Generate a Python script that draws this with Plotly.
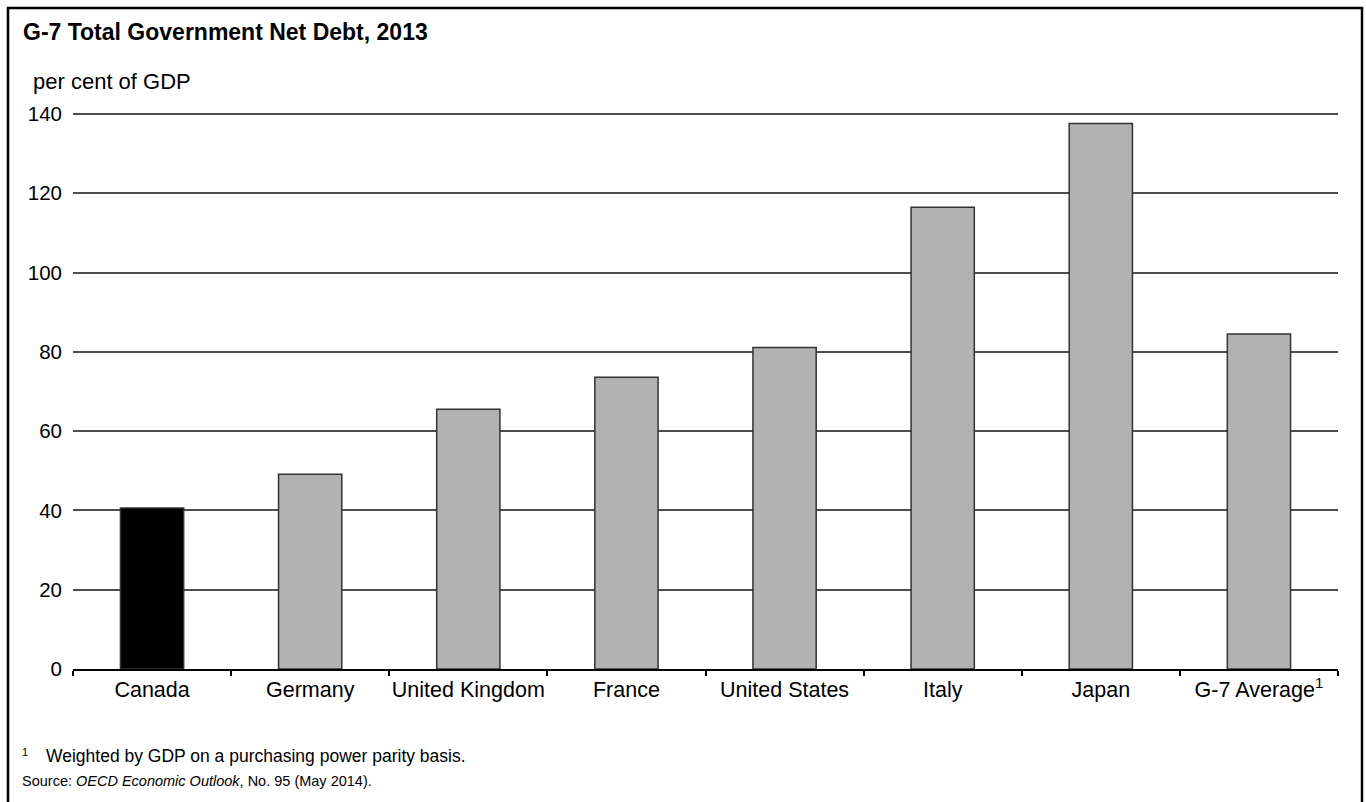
import plotly.graph_objects as go

# G-7 net government debt, 2013 (per cent of GDP)
countries = ["Canada", "Germany", "United Kingdom", "France",
             "United States", "Italy", "Japan", "G-7 Average<sup>1</sup>"]
net_debt = [40.6, 49.1, 65.5, 73.6, 81.1, 116.5, 137.6, 84.5]
y_ticks = [0, 20, 40, 60, 80, 100, 120, 140]

title_text = "G-7 Total Government Net Debt, 2013"
unit_text = "per cent of GDP"
note_text = "Weighted by GDP on a purchasing power parity basis."
source_text = "Source: <i>OECD Economic Outlook</i>, No. 95 (May 2014)."

W, H = 1366, 802
Y_MAX = 140.5
L, R, T, B = 73, 28, 112, 133
PW, PH = W - L - R, H - T - B


def px(x):
    return (x - L) / PW


def py(y):
    return (H - B - y) / PH


bar_colors = ["#000000" if c == "Canada" else "#b2b2b2" for c in countries]

fig = go.Figure(
    go.Bar(
        x=countries,
        y=net_debt,
        marker=dict(color=bar_colors, line=dict(color="#333333", width=1.5)),
        width=0.4,
        hoverinfo="x+y",
    )
)

FONT = "Liberation Sans, Arial, Helvetica, sans-serif"

fig.update_layout(
    width=W,
    height=H,
    margin=dict(l=L, r=R, t=T, b=B, pad=0),
    paper_bgcolor="white",
    plot_bgcolor="white",
    showlegend=False,
    font=dict(family=FONT, color="black"),
    xaxis=dict(
        type="category",
        range=[-0.5, 7.5],
        automargin=False,
        showline=True,
        linecolor="black",
        linewidth=2,
        ticks="outside",
        tickson="boundaries",
        ticklen=5,
        tickwidth=1.5,
        tickcolor="black",
        tickangle=0,
        showgrid=False,
        tickfont=dict(size=21.5, color="black"),
        fixedrange=True,
    ),
    yaxis=dict(
        range=[0, Y_MAX],
        automargin=False,
        tickvals=y_ticks,
        showgrid=True,
        gridcolor="#4d4d4d",
        gridwidth=1.5,
        zeroline=False,
        showline=False,
        ticks="",
        ticklabelstandoff=10,
        tickfont=dict(size=20.5, color="black"),
        fixedrange=True,
    ),
)

annotations = [
    dict(text=f"<b>{title_text}</b>", x=px(21), y=py(32), xanchor="left",
         yanchor="middle", font=dict(size=23, family=FONT)),
    dict(text=unit_text, x=px(31), y=py(81), xanchor="left", yanchor="middle",
         font=dict(size=22, family=FONT)),
    dict(text="1", x=px(20), y=py(752), xanchor="left", yanchor="middle",
         font=dict(size=11, family=FONT)),
    dict(text=note_text, x=px(44), y=py(756), xanchor="left", yanchor="middle",
         font=dict(size=17.5, family=FONT)),
    dict(text=source_text, x=px(20), y=py(781), xanchor="left", yanchor="middle",
         font=dict(size=14.5, family=FONT)),
]
for a in annotations:
    a.update(xref="paper", yref="paper", showarrow=False)
fig.update_layout(annotations=annotations)

# outer frame around the whole chart
fig.add_shape(type="rect", xref="paper", yref="paper",
              x0=px(8), x1=px(1362), y0=py(830), y1=py(8),
              line=dict(color="black", width=2.5), fillcolor="rgba(0,0,0,0)",
              layer="above")

fig.write_html("out.html")
